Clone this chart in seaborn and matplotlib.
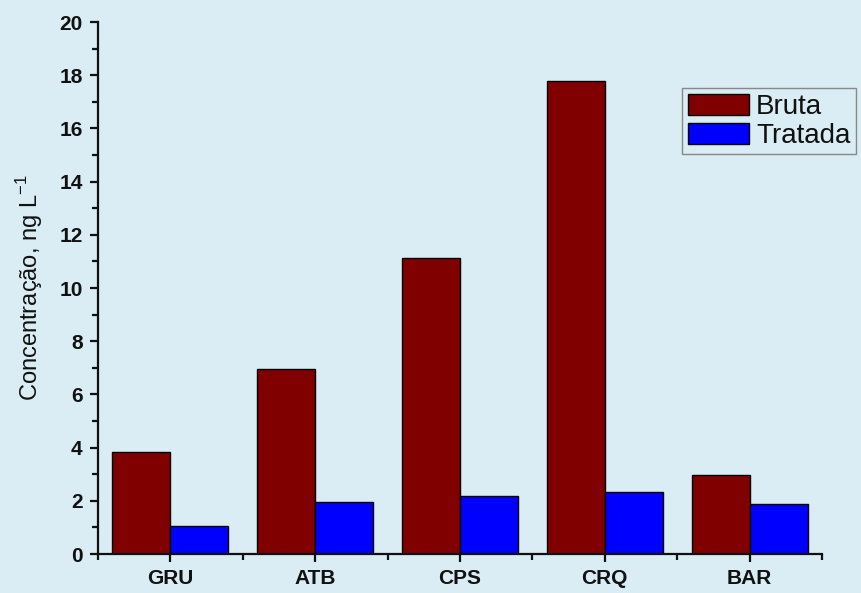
import matplotlib
matplotlib.use("Agg")
import matplotlib.pyplot as plt
from matplotlib.ticker import MultipleLocator, FixedLocator
import seaborn as sns
import pandas as pd

categories = ["GRU", "ATB", "CPS", "CRQ", "BAR"]
bruta = [3.83, 6.96, 11.13, 17.78, 2.97]
tratada = [1.05, 1.94, 2.19, 2.34, 1.88]
series_names = ["Bruta", "Tratada"]
colors = ["#800000", "#0000ff"]

df = pd.DataFrame({
    "site": categories * 2,
    "value": bruta + tratada,
    "series": [series_names[0]] * len(categories) + [series_names[1]] * len(categories),
})

bg = "#daecf4"
sns.set_theme(style="ticks")
plt.rcParams["font.family"] = ["Liberation Sans", "DejaVu Sans"]

fig = plt.figure(figsize=(8.61, 5.93), dpi=100, facecolor=bg)
ax = fig.add_axes([98 / 861, 39 / 593, 724 / 861, 532 / 593])
ax.set_facecolor(bg)

sns.barplot(data=df, x="site", y="value", hue="series", palette=colors,
            width=0.8, edgecolor="black", linewidth=1.0, saturation=1,
            ax=ax, legend=True)

ax.set_xlim(-0.5, 4.5)
ax.set_ylim(0, 20)
ax.yaxis.set_major_locator(MultipleLocator(2))
ax.yaxis.set_minor_locator(MultipleLocator(1))
ax.xaxis.set_minor_locator(FixedLocator([-0.5, 0.5, 1.5, 2.5, 3.5, 4.5]))

for side in ("top", "right"):
    ax.spines[side].set_visible(False)
for side in ("left", "bottom"):
    ax.spines[side].set_linewidth(1.6)
    ax.spines[side].set_color("#111111")

ax.tick_params(axis="both", which="major", length=6, width=1.6, color="#111111",
               labelsize=15, pad=5)
ax.tick_params(axis="both", which="minor", length=4, width=1.6, color="#111111")
for lbl in ax.get_xticklabels() + ax.get_yticklabels():
    lbl.set_fontweight("bold")
    lbl.set_color("#111111")

ax.set_xlabel("")
ax.set_ylabel("Concentração, ng L$^{\\mathregular{-1}}$", fontsize=17, color="#111111",
              labelpad=10)

leg = ax.legend(loc="upper right", bbox_to_anchor=(856 / 861, 1 - 88 / 593),
                bbox_transform=fig.transFigure, fontsize=20, frameon=True,
                fancybox=False, edgecolor="#888888", facecolor=bg, framealpha=1,
                handlelength=2.2, handleheight=0.8, handletextpad=0.25,
                borderpad=0.2, labelspacing=0.1, borderaxespad=0)
leg.get_frame().set_linewidth(1.0)
for t in leg.get_texts():
    t.set_color("#111111")

fig.savefig("out.png", dpi=100, facecolor=bg)
